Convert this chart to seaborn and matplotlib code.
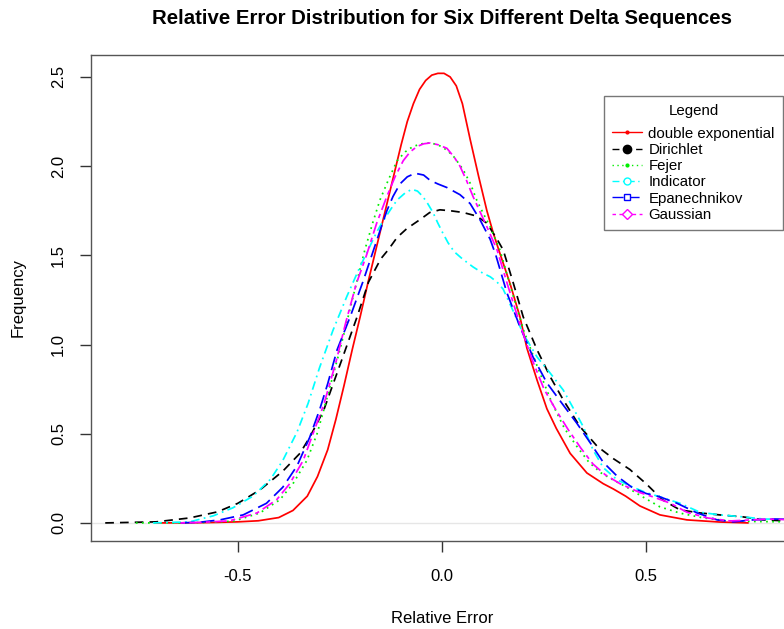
import numpy as np
import pandas as pd
import seaborn as sns
from matplotlib import pyplot as plt
from matplotlib.lines import Line2D

# density curves
dexp_x = [-0.70, -0.60, -0.55, -0.50, -0.45, -0.40, -0.365, -0.33, -0.305, -0.28, -0.26, -0.24, -0.22,
          -0.20, -0.18, -0.16, -0.14, -0.12, -0.10, -0.085, -0.07, -0.055, -0.04, -0.025, -0.01, 0.005,
          0.02, 0.035, 0.05, 0.069, 0.09, 0.11, 0.125, 0.142, 0.167, 0.191, 0.208, 0.233, 0.257, 0.28,
          0.314, 0.355, 0.395, 0.42, 0.45, 0.485, 0.534, 0.60, 0.68, 0.75]
dexp_y = [0.0, 0.001, 0.003, 0.006, 0.012, 0.03, 0.07, 0.15, 0.26, 0.41, 0.58, 0.77, 0.97,
          1.16, 1.36, 1.55, 1.74, 1.93, 2.12, 2.25, 2.35, 2.43, 2.48, 2.51, 2.52, 2.52,
          2.50, 2.45, 2.35, 2.15, 1.94, 1.75, 1.63, 1.51, 1.34, 1.155, 0.98, 0.80, 0.64, 0.53,
          0.39, 0.28, 0.22, 0.19, 0.15, 0.095, 0.045, 0.017, 0.005, 0.0]

dirichlet_x = [-0.825, -0.70, -0.618, -0.55, -0.50, -0.446, -0.39, -0.348, -0.324, -0.29, -0.243, -0.208,
               -0.18, -0.15, -0.132, -0.11, -0.086, -0.054, -0.03, -0.005, 0.02, 0.052, 0.085, 0.11,
               0.135, 0.15, 0.174, 0.199, 0.233, 0.265, 0.297, 0.338, 0.38, 0.42, 0.46, 0.50, 0.54,
               0.583, 0.632, 0.68, 0.737, 0.787, 0.86]
dirichlet_y = [0.0, 0.006, 0.028, 0.062, 0.11, 0.185, 0.29, 0.39, 0.48, 0.63, 0.93, 1.155,
               1.35, 1.48, 1.53, 1.60, 1.65, 1.70, 1.74, 1.755, 1.75, 1.74, 1.72, 1.68,
               1.59, 1.53, 1.35, 1.155, 0.97, 0.82, 0.69, 0.54, 0.43, 0.36, 0.30, 0.22, 0.13,
               0.073, 0.056, 0.045, 0.034, 0.017, 0.01]

fejer_x = [-0.75, -0.65, -0.59, -0.51, -0.446, -0.397, -0.365, -0.331, -0.306, -0.29, -0.27, -0.25,
           -0.23, -0.21, -0.189, -0.17, -0.152, -0.13, -0.11, -0.09, -0.071, -0.05, -0.03, -0.01,
           0.012, 0.03, 0.052, 0.07, 0.085, 0.10, 0.118, 0.142, 0.171, 0.20, 0.233, 0.27, 0.30,
           0.33, 0.36, 0.39, 0.42, 0.453, 0.485, 0.534, 0.583, 0.64, 0.70, 0.76, 0.86]
fejer_y = [0.0, 0.0, 0.002, 0.01, 0.056, 0.13, 0.22, 0.35, 0.50, 0.63, 0.80, 0.97,
           1.155, 1.34, 1.53, 1.68, 1.81, 1.93, 2.03, 2.08, 2.11, 2.125, 2.13, 2.12,
           2.09, 2.05, 1.98, 1.90, 1.81, 1.74, 1.66, 1.53, 1.30, 1.08, 0.88, 0.67, 0.53,
           0.43, 0.34, 0.28, 0.24, 0.20, 0.155, 0.09, 0.055, 0.028, 0.012, 0.008, 0.006]

indicator_x = [-0.708, -0.618, -0.56, -0.512, -0.463, -0.42, -0.39, -0.355, -0.328, -0.30, -0.267,
               -0.233, -0.201, -0.181, -0.16, -0.145, -0.125, -0.11, -0.09, -0.074, -0.06, -0.047,
               -0.035, -0.022, -0.01, 0.002, 0.015, 0.03, 0.05, 0.076, 0.10, 0.118, 0.135, 0.15,
               0.174, 0.199, 0.233, 0.265, 0.297, 0.32, 0.346, 0.37, 0.395, 0.43, 0.468, 0.50,
               0.534, 0.583, 0.632, 0.68, 0.737, 0.787, 0.86]
indicator_y = [0.0, 0.006, 0.04, 0.085, 0.15, 0.245, 0.35, 0.51, 0.67, 0.87, 1.08,
               1.27, 1.435, 1.53, 1.63, 1.69, 1.76, 1.81, 1.85, 1.87, 1.86, 1.83,
               1.79, 1.74, 1.68, 1.625, 1.57, 1.52, 1.48, 1.435, 1.40, 1.38, 1.35, 1.31,
               1.19, 1.06, 0.93, 0.84, 0.745, 0.65, 0.54, 0.41, 0.31, 0.24, 0.20, 0.17,
               0.146, 0.11, 0.06, 0.045, 0.034, 0.022, 0.02]

epan_x = [-0.64, -0.593, -0.544, -0.487, -0.43, -0.39, -0.355, -0.324, -0.299, -0.28, -0.257, -0.225,
          -0.194, -0.172, -0.15, -0.135, -0.12, -0.103, -0.085, -0.066, -0.045, -0.029, -0.01, 0.012,
          0.044, 0.069, 0.093, 0.118, 0.132, 0.159, 0.191, 0.223, 0.257, 0.294, 0.33, 0.363, 0.395,
          0.43, 0.468, 0.50, 0.534, 0.576, 0.625, 0.674, 0.713, 0.762, 0.81, 0.86]
epan_y = [0.0, 0.004, 0.017, 0.045, 0.11, 0.20, 0.32, 0.48, 0.64, 0.78, 0.97, 1.155,
          1.35, 1.50, 1.65, 1.75, 1.83, 1.90, 1.94, 1.96, 1.95, 1.92, 1.90, 1.88,
          1.84, 1.79, 1.70, 1.59, 1.50, 1.29, 1.10, 0.93, 0.785, 0.67, 0.56, 0.45, 0.34,
          0.26, 0.195, 0.165, 0.146, 0.11, 0.056, 0.017, 0.006, 0.017, 0.022, 0.02]

gauss_x = [-0.64, -0.59, -0.52, -0.453, -0.405, -0.373, -0.34, -0.316, -0.29, -0.26, -0.235, -0.21,
           -0.185, -0.16, -0.135, -0.115, -0.095, -0.078, -0.061, -0.045, -0.029, -0.01, 0.012, 0.03,
           0.044, 0.06, 0.076, 0.093, 0.11, 0.135, 0.16, 0.19, 0.22, 0.25, 0.28, 0.31, 0.34, 0.37,
           0.40, 0.436, 0.485, 0.517, 0.56, 0.60, 0.65, 0.706, 0.76, 0.80, 0.86]
gauss_y = [0.0, 0.003, 0.012, 0.056, 0.13, 0.22, 0.35, 0.50, 0.66, 0.90, 1.13, 1.34,
           1.50, 1.68, 1.83, 1.94, 2.03, 2.08, 2.11, 2.125, 2.13, 2.12, 2.10, 2.05,
           2.00, 1.92, 1.83, 1.745, 1.66, 1.53, 1.34, 1.12, 0.92, 0.75, 0.63, 0.52, 0.42, 0.33,
           0.27, 0.22, 0.17, 0.146, 0.11, 0.06, 0.028, 0.011, 0.017, 0.022, 0.017]

names = ["double exponential", "Dirichlet", "Fejer", "Indicator", "Epanechnikov", "Gaussian"]
colors = ["#ff0000", "#000000", "#00ee00", "#00ffff", "#0000ff", "#ff00ff"]
dash_styles = ["-", (0, (5, 3.5)), (0, (1, 2.5)), (0, (5, 2.5, 1, 2.5)), (0, (8, 3.5)), (0, (2.5, 2.5, 7, 2.5))]
markers = [".", "o", ".", "o", "s", "D"]
filled = [True, True, True, False, False, False]
curves = [(dexp_x, dexp_y), (dirichlet_x, dirichlet_y), (fejer_x, fejer_y),
          (indicator_x, indicator_y), (epan_x, epan_y), (gauss_x, gauss_y)]

sns.set_theme(style="white")
plt.rcParams['font.family'] = ['Liberation Sans', 'DejaVu Sans']
plt.rcParams['text.color'] = 'black'
plt.rcParams['axes.labelcolor'] = 'black'
plt.rcParams['xtick.color'] = 'black'
plt.rcParams['ytick.color'] = 'black'

fig = plt.figure(figsize=(7.84, 6.29), dpi=100)
ax = fig.add_axes([0.116, 0.140, 0.8955, 0.7726])

ax.axhline(0, color="#e6e6e6", lw=1, zorder=0)
for (xs, ys), col, ls in zip(curves, colors, dash_styles):
    df = pd.DataFrame({"x": xs, "y": ys})
    sns.lineplot(data=df, x="x", y="y", ax=ax, color=col, linestyle=ls, lw=1.25, sort=False)

ax.set_xlim(-0.86, 0.86)
ax.set_ylim(-0.101, 2.623)
ax.set_xticks([-0.5, 0.0, 0.5])
ax.set_xticklabels(["-0.5", "0.0", "0.5"])
ax.set_yticks([0.0, 0.5, 1.0, 1.5, 2.0, 2.5])
ax.set_yticklabels(["0.0", "0.5", "1.0", "1.5", "2.0", "2.5"], rotation=90, va="center")
ax.tick_params(axis="both", direction="out", length=8, width=1, color="#333333",
               labelsize=12, bottom=True, left=True)
ax.tick_params(axis="x", pad=12)
ax.tick_params(axis="y", pad=10)
for sp in ax.spines.values():
    sp.set_color("#555555")
    sp.set_linewidth(1)

ax.set_xlabel("Relative Error", fontsize=12, labelpad=20)
ax.set_ylabel("Frequency", fontsize=12, labelpad=18)
ax.set_title("Relative Error Distribution for Six Different Delta Sequences",
             fontsize=14.7, fontweight="bold", pad=22)

handles = []
for col, ls, mk, fl in zip(colors, dash_styles, markers, filled):
    ms = 4 if mk == "." else 6 if mk == "o" and fl else 5
    handles.append(Line2D([0], [0], color=col, linestyle=ls, lw=1, marker=mk, markersize=ms,
                          markerfacecolor=col if fl else "white", markeredgecolor=col))
leg = ax.legend(handles, names, title="Legend", loc="upper left", bbox_to_anchor=(0.731, 0.9156),
                borderaxespad=0, fontsize=10.8, title_fontsize=10.8, frameon=True, fancybox=False,
                handlelength=2.0, borderpad=0.55, labelspacing=0.15, handletextpad=0.4)
leg._legend_box.sep = 6
leg.get_frame().set_edgecolor("#555555")
leg.get_frame().set_linewidth(1)

fig.savefig("out.png", dpi=100)
